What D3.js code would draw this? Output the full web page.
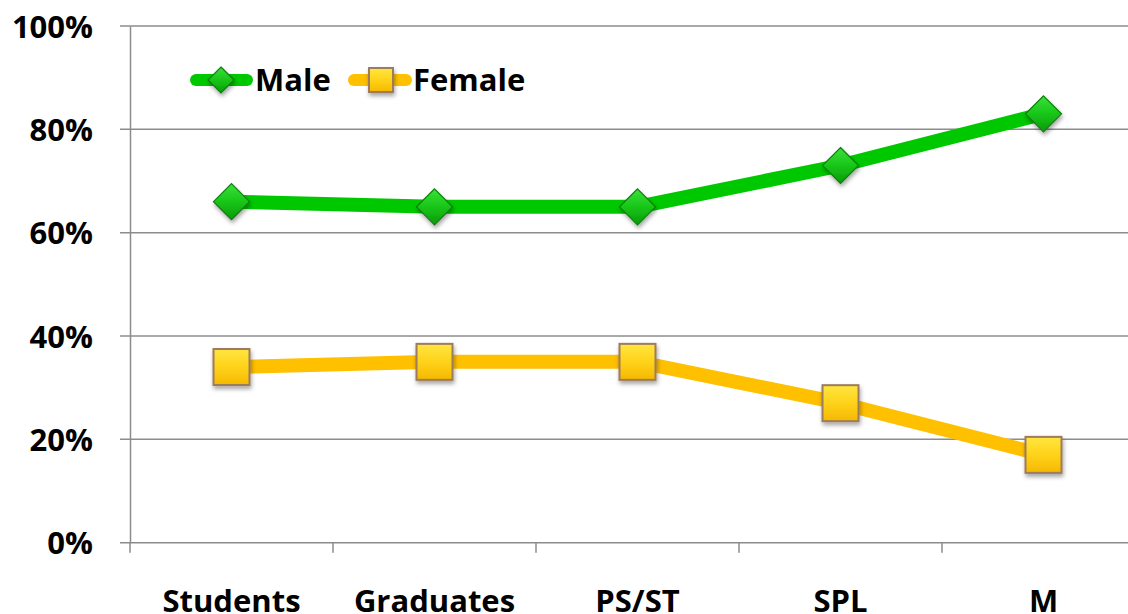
<!DOCTYPE html>
<meta charset="utf-8">
<script src="https://d3js.org/d3.v7.min.js"></script>
<style>
  body { margin: 0; background: #fff; }
  text { font-family: "Open Sans", "DejaVu Sans", sans-serif; font-weight: bold; fill: #000; }
</style>
<div id="chart"></div>
<script>
// data
const categories = ["Students", "Graduates", "PS/ST", "SPL", "M"];
const maleValues = [66, 65, 65, 73, 83];
const femaleValues = [34, 35, 35, 27, 17];
const yTicks = [0, 20, 40, 60, 80, 100];

const width = 1128, height = 614;
const margin = {top: 26, left: 130, bottom: 71};
const band = 203;

const svg = d3.select("#chart").append("svg")
    .attr("width", width)
    .attr("height", height);

const defs = svg.append("defs");
const shadow = defs.append("filter").attr("id", "shadow")
    .attr("x", "-40%").attr("y", "-40%").attr("width", "180%").attr("height", "180%");
shadow.append("feDropShadow")
    .attr("dx", 1).attr("dy", 3).attr("stdDeviation", 2)
    .attr("flood-color", "#000").attr("flood-opacity", 0.35);

const gGreen = defs.append("linearGradient").attr("id", "gGreen")
    .attr("x1", 0).attr("y1", 0).attr("x2", 0).attr("y2", 1);
gGreen.append("stop").attr("offset", "0%").attr("stop-color", "#3be03b");
gGreen.append("stop").attr("offset", "50%").attr("stop-color", "#18c618");
gGreen.append("stop").attr("offset", "100%").attr("stop-color", "#0a9a0a");

const gYellow = defs.append("linearGradient").attr("id", "gYellow")
    .attr("x1", 0).attr("y1", 0).attr("x2", 0).attr("y2", 1);
gYellow.append("stop").attr("offset", "0%").attr("stop-color", "#ffe640");
gYellow.append("stop").attr("offset", "50%").attr("stop-color", "#ffd21a");
gYellow.append("stop").attr("offset", "100%").attr("stop-color", "#f5b800");

const x = d3.scaleBand()
    .domain(categories)
    .range([margin.left, margin.left + band * categories.length]);

const y = d3.scaleLinear()
    .domain([0, 100])
    .range([height - margin.bottom - 0.3, margin.top]);

// gridlines
svg.append("g")
  .selectAll("line")
  .data(yTicks)
  .join("line")
    .attr("x1", margin.left - 10)
    .attr("x2", width)
    .attr("y1", d => y(d))
    .attr("y2", d => y(d))
    .attr("stroke", "#8c8c8c")
    .attr("stroke-width", 1.5);

// y axis
const yAxis = svg.append("g")
    .attr("transform", `translate(${margin.left},0)`)
    .call(d3.axisLeft(y).tickValues(yTicks).tickFormat(d => d + "%").tickSize(0).tickPadding(37));
yAxis.select(".domain").attr("stroke", "#8c8c8c").attr("stroke-width", 1.5);
yAxis.selectAll("text").style("font-size", "31px").attr("dy", "0.36em");

// x axis
const xAxis = svg.append("g")
    .attr("transform", `translate(0,${y(0)})`)
    .call(d3.axisBottom(x).tickSize(0).tickPadding(47));
xAxis.select(".domain").remove();
xAxis.selectAll("text").style("font-size", "31px");
svg.append("g")
  .selectAll("line")
  .data(categories)
  .join("line")
    .attr("x1", d => x(d))
    .attr("x2", d => x(d))
    .attr("y1", y(0))
    .attr("y2", y(0) + 10)
    .attr("stroke", "#8c8c8c")
    .attr("stroke-width", 1.5);

const cx = d => x(d) + x.bandwidth() / 2;
const line = d3.line()
    .x(d => cx(d.cat))
    .y(d => y(d.v));

const maleData = categories.map((c, i) => ({cat: c, v: maleValues[i]}));
const femaleData = categories.map((c, i) => ({cat: c, v: femaleValues[i]}));

svg.append("path")
    .datum(femaleData)
    .attr("d", line)
    .attr("fill", "none")
    .attr("stroke", "#ffc000")
    .attr("stroke-width", 14)
    .attr("stroke-linejoin", "round");

svg.append("path")
    .datum(maleData)
    .attr("d", line)
    .attr("fill", "none")
    .attr("stroke", "#00c800")
    .attr("stroke-width", 14)
    .attr("stroke-linejoin", "round");

function diamond(g, s) {
  g.append("path")
    .attr("d", `M0,${-s}L${s},0L0,${s}L${-s},0Z`)
    .attr("fill", "url(#gGreen)")
    .attr("stroke", "#0b7d0b")
    .attr("stroke-width", 1.2)
    .attr("filter", "url(#shadow)");
}
function square(g, s) {
  g.append("rect")
    .attr("x", -s).attr("y", -s)
    .attr("width", 2 * s).attr("height", 2 * s)
    .attr("fill", "url(#gYellow)")
    .attr("stroke", "#9c7b5c")
    .attr("stroke-width", 2)
    .attr("filter", "url(#shadow)");
}

svg.append("g")
  .selectAll("g")
  .data(femaleData)
  .join("g")
    .attr("transform", d => `translate(${cx(d.cat)},${y(d.v)})`)
    .each(function() { square(d3.select(this), 18); });

svg.append("g")
  .selectAll("g")
  .data(maleData)
  .join("g")
    .attr("transform", d => `translate(${cx(d.cat)},${y(d.v)})`)
    .each(function() { diamond(d3.select(this), 18); });

// legend
const legend = svg.append("g").attr("transform", "translate(0,80)");
legend.append("line")
    .attr("x1", 196).attr("x2", 247).attr("y1", 0).attr("y2", 0)
    .attr("stroke", "#00c800").attr("stroke-width", 12).attr("stroke-linecap", "round");
diamond(legend.append("g").attr("transform", "translate(221,0)"), 13);
legend.append("text").attr("x", 255).attr("y", 0).attr("dy", "0.36em")
    .style("font-size", "31px").text("Male");

legend.append("line")
    .attr("x1", 354).attr("x2", 406).attr("y1", 0).attr("y2", 0)
    .attr("stroke", "#ffc000").attr("stroke-width", 12).attr("stroke-linecap", "round");
square(legend.append("g").attr("transform", "translate(381,0)"), 12);
legend.append("text").attr("x", 413).attr("y", 0).attr("dy", "0.36em")
    .style("font-size", "31px").text("Female");
</script>
